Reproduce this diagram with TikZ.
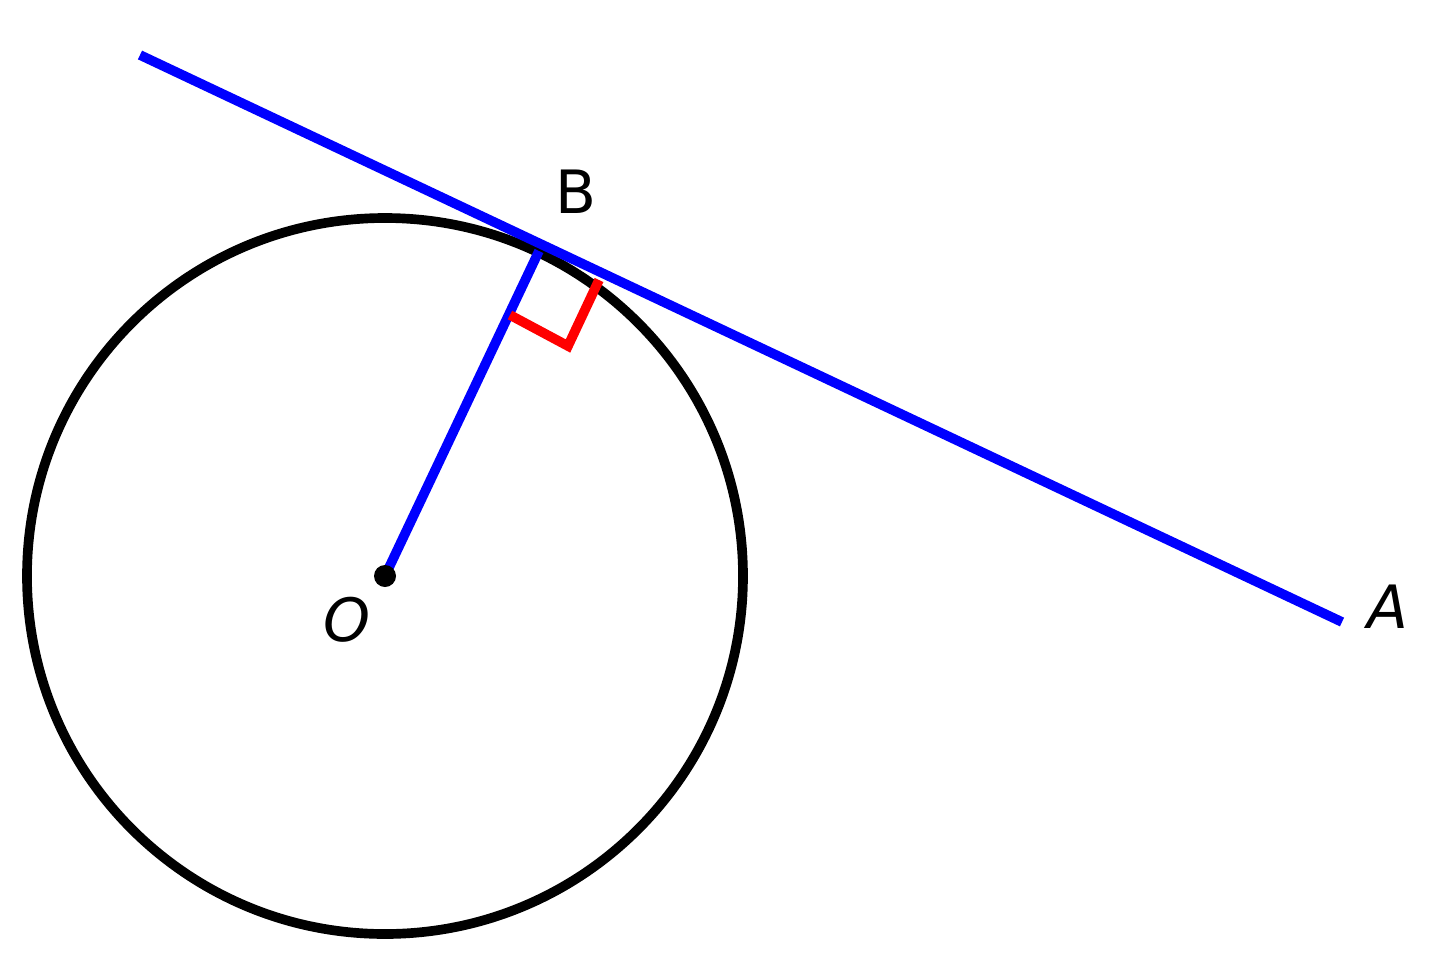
\documentclass[tikz,border=0pt]{standalone}
\usepackage{fontspec}
\setmainfont{DejaVu Sans}
\begin{document}
\begin{tikzpicture}[x=0.02cm,y=-0.02cm,
  lbl/.style={font=\fontsize{34}{34}\selectfont},
  thick7/.style={line width=5.5pt}]
\useasboundingbox (0,0) rectangle (1440,964);
\coordinate (O) at (385,576);
\coordinate (B) at (539,251);
\coordinate (P) at (140,55);
\coordinate (A) at (1342,622);
\draw[thick7,black] (O) circle (358);
\draw[thick7,blue] (O) -- (B);
\draw[thick7,blue] (P) -- (A);
\coordinate (m1) at (510,315);
\coordinate (m2) at (568,346);
\coordinate (m3) at (599,280);
\draw[thick7,red,line join=miter] (m1) -- (m2) -- (m3);
\fill (O) circle (11);
\node[lbl] (lB) at (576,192) {B};
\node[lbl] (lA) at (1388,607) {\itshape A};
\node[lbl] (lO) at (347,620) {\itshape O};
\end{tikzpicture}
\end{document}
